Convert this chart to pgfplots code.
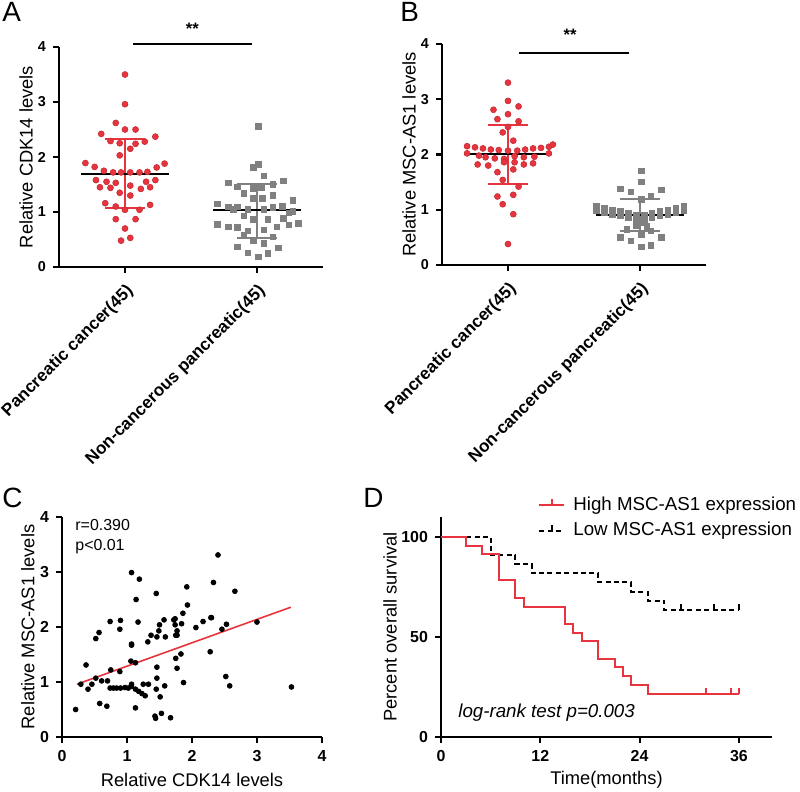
\documentclass[border=0pt]{standalone}
\usepackage{pgfplots}
\pgfplotsset{compat=1.18}
\usepackage{fontspec}
\setmainfont{Liberation Sans}
\definecolor{myred}{RGB}{232,52,62}
\definecolor{mygray}{RGB}{128,128,128}
\pgfdeclareplotmark{cens}{\pgfpathmoveto{\pgfpoint{0pt}{0pt}}\pgfpathlineto{\pgfpoint{0pt}{3bp}}\pgfusepathqstroke}

\pgfplotstableread{
x y
0 3.50
0 2.96
-0.07 2.62
0 2.50
0.08 2.50
-0.18 2.42
0.23 2.37
-0.11 2.29
-0.04 2.25
0.15 2.28
0.08 2.24
0.04 2.15
-0.04 2.03
-0.30 1.89
0.30 1.88
-0.23 1.82
0.24 1.81
-0.16 1.75
-0.09 1.72
-0.03 1.72
0.04 1.72
0.11 1.72
0.17 1.73
-0.22 1.58
-0.14 1.55
-0.07 1.53
0.16 1.55
0.23 1.58
-0.19 1.45
-0.11 1.44
0.04 1.48
0.12 1.42
0.19 1.45
-0.04 1.35
0.04 1.30
-0.15 1.16
-0.07 1.10
0.19 1.13
0 1.04
0.11 1.04
-0.07 0.87
0.08 0.87
0 0.70
-0.03 0.48
0.04 0.53
}\Ared

\pgfplotstableread{
x y
1.01 2.56
0.97 1.82
1.01 1.87
1.05 1.66
0.78 1.53
1.20 1.57
1.12 1.51
0.85 1.46
0.97 1.43
1.03 1.44
0.90 1.34
1.12 1.31
0.97 1.25
1.04 1.25
1.27 1.22
0.70 1.15
0.78 1.10
0.85 1.10
1.19 1.11
0.82 1.05
0.93 1.05
1.12 1.09
1.05 1.05
1.27 1.01
1.24 0.99
0.90 0.93
0.97 0.87
1.08 0.87
1.20 0.89
0.70 0.78
0.78 0.73
1.31 0.80
1.24 0.77
0.85 0.72
0.93 0.66
1.05 0.68
1.15 0.73
0.90 0.58
1.12 0.55
0.97 0.49
0.85 0.37
1.05 0.43
1.16 0.35
0.93 0.26
1.08 0.25
1.01 0.19
}\Agray

\pgfplotstableread{
x y
0 3.30
0 2.97
0.08 2.87
-0.11 2.81
0 2.73
-0.08 2.64
0.08 2.60
0 2.50
-0.04 2.40
0.04 2.25
-0.31 2.15
-0.25 2.13
-0.19 2.11
-0.13 2.09
-0.07 2.08
0 2.07
0.07 2.07
0.13 2.09
0.19 2.11
0.25 2.12
0.31 2.14
0.34 2.18
-0.31 2.02
0.31 2.02
-0.22 1.98
-0.17 1.95
-0.10 1.93
-0.03 1.92
0.05 1.97
0.12 1.95
0.20 1.96
-0.23 1.82
-0.15 1.80
-0.03 1.86
0.05 1.86
0.12 1.82
0.19 1.84
0.04 1.73
-0.08 1.68
-0.04 1.54
0.08 1.42
0.04 1.27
-0.08 1.24
-0.04 1.10
0.04 0.92
0 0.38
}\Bred

\pgfplotstableread{
x y
1.01 1.71
1.01 1.51
0.85 1.38
0.93 1.33
1.16 1.36
1.01 1.19
1.08 1.24
0.67 1.06
0.67 0.98
1.33 1.06
1.33 0.98
0.73 1.03
0.73 0.95
1.27 1.03
1.27 0.95
0.79 1.00
0.79 0.92
1.21 1.00
1.21 0.92
0.85 0.97
0.85 0.89
1.15 0.97
1.15 0.89
0.91 0.94
0.91 0.86
1.09 0.94
1.09 0.86
0.97 0.91
0.97 0.83
1.03 0.91
1.03 0.83
1.00 0.78
0.97 0.72
1.05 0.70
0.90 0.65
1.08 0.62
0.85 0.50
0.93 0.44
1.16 0.50
1.01 0.55
1.01 0.33
1.08 0.36
}\Bgray

\pgfplotstableread{
x y
0.21 0.50
0.29 0.96
0.37 1.31
0.40 0.87
0.46 0.96
0.52 1.07
0.52 1.79
0.57 1.90
0.58 0.61
0.61 1.02
0.69 0.56
0.70 1.02
0.74 2.10
0.75 1.22
0.74 0.89
0.79 0.89
0.84 0.89
0.90 0.89
0.97 0.90
0.89 1.96
0.90 2.12
0.89 1.19
1.02 0.89
1.07 0.92
1.07 2.99
1.19 2.87
1.14 2.50
1.17 2.09
1.07 1.69
1.07 1.67
1.06 1.38
1.13 1.35
1.07 0.96
1.13 0.87
1.18 0.83
1.23 0.79
1.28 0.75
1.13 0.53
1.25 0.96
1.33 0.96
1.32 1.73
1.37 1.85
1.43 0.38
1.44 0.34
1.45 2.61
1.46 1.82
1.46 1.27
1.46 1.07
1.45 0.87
1.49 1.93
1.50 2.04
1.57 2.13
1.59 1.82
1.51 0.73
1.53 0.43
1.58 0.93
1.67 0.35
1.72 2.13
1.74 2.15
1.74 2.04
1.75 1.85
1.77 1.85
1.75 1.43
1.77 1.93
1.84 2.06
1.92 2.73
1.93 2.40
1.83 1.51
1.77 1.25
1.87 0.99
2.40 3.31
2.33 2.81
2.66 2.65
1.86 2.25
2.06 1.99
2.17 2.10
2.29 2.17
2.30 2.17
2.46 1.96
2.53 2.05
3.00 2.09
2.28 1.55
2.52 1.10
2.58 0.93
3.53 0.91
}\Cdata

\pgfplotsset{
  gp/.style={
    scale only axis,
    axis lines=left,
    axis line style={-, line width=1.2bp},
    tick align=outside,
    tick pos=left,
    major tick length=3bp,
    tick style={line width=1.1bp, black},
    /pgf/number format/assume math mode=true,
    clip=false,
    anchor=south west,
  },
  abtick/.style={
    xtick={0,1},
    xticklabels={Pancreatic cancer(45),Non-cancerous pancreatic(45)},
    ytick={0,1,2,3,4},
    xmin=-0.5, xmax=1.5, ymin=0, ymax=4,
    xticklabel style={rotate=45, anchor=north east, font=\bfseries\fontsize{8.6}{10}\selectfont},
    yticklabel style={font=\bfseries\fontsize{7.2}{8}\selectfont},
    ylabel style={anchor=center, font=\fontsize{9.2}{11}\selectfont},
  },
  redpt/.style={only marks, mark=*, mark size=1.5bp, mark options={fill=myred, draw=myred!85!black, line width=0.3bp}},
  graypt/.style={only marks, mark=square*, mark size=1.4bp, mark options={fill=mygray, draw=mygray, line width=0.2bp}},
}

\begin{document}
\begin{tikzpicture}
\useasboundingbox (0,0) rectangle (400bp,-396bp);

% Panel A
\begin{axis}[gp, abtick, at={(29.5bp,-133.5bp)}, width=132bp, height=110bp,
  ylabel={Relative CDK14 levels},
  ylabel style={at={(axis description cs:-0.125,0.5)}}]
\addplot[redpt] table[x=x,y=y] {\Ared};
\addplot[graypt] table[x=x,y=y] {\Agray};
\addplot[myred, line width=1bp] coordinates {(0,1.07) (0,2.33)};
\addplot[myred, line width=1bp] coordinates {(-0.15,2.33) (0.15,2.33)};
\addplot[myred, line width=1bp] coordinates {(-0.15,1.07) (0.15,1.07)};
\addplot[black, line width=1bp] coordinates {(-0.33,1.70) (0.33,1.70)};
\addplot[mygray, line width=1bp] coordinates {(1,0.52) (1,1.51)};
\addplot[mygray, line width=1bp] coordinates {(0.85,1.51) (1.15,1.51)};
\addplot[mygray, line width=1bp] coordinates {(0.85,0.52) (1.15,0.52)};
\addplot[black, line width=1bp] coordinates {(0.67,1.03) (1.33,1.03)};
\addplot[black, line width=1bp] coordinates {(0.06,4.05) (0.96,4.05)};
\node[font=\bfseries\fontsize{8.3}{10}\selectfont] at (axis cs:0.51,4.33) {**};
\end{axis}

% Panel B
\begin{axis}[gp, abtick, at={(221bp,-132.5bp)}, width=132bp, height=110.5bp,
  ylabel={Relative MSC-AS1 levels},
  ylabel style={at={(axis description cs:-0.125,0.5)}}]
\addplot[redpt] table[x=x,y=y] {\Bred};
\addplot[graypt] table[x=x,y=y] {\Bgray};
\addplot[myred, line width=1bp] coordinates {(0,1.47) (0,2.54)};
\addplot[myred, line width=1bp] coordinates {(-0.15,2.54) (0.15,2.54)};
\addplot[myred, line width=1bp] coordinates {(-0.15,1.47) (0.15,1.47)};
\addplot[black, line width=1bp] coordinates {(-0.33,2.01) (0.33,2.01)};
\addplot[mygray, line width=1bp] coordinates {(1,0.62) (1,1.19)};
\addplot[mygray, line width=1bp] coordinates {(0.85,1.19) (1.15,1.19)};
\addplot[mygray, line width=1bp] coordinates {(0.85,0.62) (1.15,0.62)};
\addplot[black, line width=1bp] coordinates {(0.67,0.90) (1.33,0.90)};
\addplot[black, line width=1bp] coordinates {(0.08,3.84) (0.92,3.84)};
\node[font=\bfseries\fontsize{8.3}{10}\selectfont] at (axis cs:0.47,4.17) {**};
\end{axis}

% Panel C
\begin{axis}[gp, at={(31bp,-368.5bp)}, width=130bp, height=110bp,
  xmin=0, xmax=4, ymin=0, ymax=4, xtick={0,1,2,3,4}, ytick={0,1,2,3,4},
  ticklabel style={font=\bfseries\fontsize{8}{9}\selectfont},
  xlabel={Relative CDK14 levels}, ylabel={Relative MSC-AS1 levels},
  xlabel style={at={(axis description cs:0.5,-0.195)}, anchor=center, font=\fontsize{9.2}{11}\selectfont},
  ylabel style={at={(axis description cs:-0.131,0.5)}, anchor=center, font=\fontsize{9.2}{11}\selectfont}]
\addplot[only marks, mark=*, mark size=1.2bp, mark options={fill=black, draw=black}] table[x=x,y=y] {\Cdata};
\addplot[myred, line width=0.8bp] coordinates {(0.23,0.96) (3.52,2.36)};
\node[anchor=west, font=\fontsize{8}{9}\selectfont, inner sep=0] at (axis cs:0.2,3.85) {r=0.390};
\node[anchor=west, font=\fontsize{8}{9}\selectfont, inner sep=0] at (axis cs:0.2,3.47) {p<0.01};
\end{axis}

% Panel D
\begin{axis}[gp, at={(220.5bp,-368.5bp)}, width=165.5bp, height=110bp,
  xmin=0, xmax=40, ymin=0, ymax=110, xtick={0,12,24,36}, ytick={0,50,100},
  ticklabel style={font=\bfseries\fontsize{8}{9}\selectfont},
  xlabel={Time(months)}, ylabel={Percent overall survival},
  xlabel style={at={(axis description cs:0.5,-0.195)}, anchor=center, font=\fontsize{9.2}{11}\selectfont},
  ylabel style={at={(axis description cs:-0.154,0.5)}, anchor=center, font=\fontsize{9.2}{11}\selectfont},
  legend image code/.code={\draw[#1] (0bp,0bp) -- (12.5bp,0bp); \draw[#1,solid] (6.25bp,0bp) -- (6.25bp,3bp);},
  legend style={draw=none, fill=none, inner sep=0pt, at={(rel axis cs:0.293,1.11)}, anchor=north west,
    font=\fontsize{9.4}{11}\selectfont, row sep=0.3bp, column sep=2bp, cells={anchor=west}}]
\addlegendimage{myred, line width=1bp}
\addlegendentry{High MSC-AS1 expression}
\addlegendimage{black, line width=1bp, dash pattern=on 2.5bp off 1.7bp}
\addlegendentry{Low MSC-AS1 expression}
\addplot[const plot, black, line width=1bp, dash pattern=on 2.5bp off 1.7bp, forget plot] coordinates {
(0,100) (6,90.91) (9,86.36) (11,81.82) (19,77.27) (23,72.73) (25,68.18) (27,63.64) (36,63.64)};
\addplot[only marks, mark=cens, black, line width=1bp, forget plot] coordinates {(29,63.64) (33,63.64) (36,63.64)};
\addplot[const plot, myred, line width=1bp, forget plot] coordinates {
(0,100) (3,95.65) (5,91.3) (7,78.26) (9,69.57) (10,65.22) (15,56.52) (16,52.17) (17,47.83) (19,39.13) (21,34.78) (22,30.43) (23,26.09) (25,21.74) (36,21.74)};
\addplot[only marks, mark=cens, myred, line width=1bp, forget plot] coordinates {(32,21.74) (35,21.74) (36,21.74)};
\node[anchor=west, font=\itshape\fontsize{9.4}{11}\selectfont, inner sep=0] at (axis cs:2.05,12) {log-rank test p=0.003};
\end{axis}

\node[anchor=north west, inner sep=0, font=\fontsize{14}{16}\selectfont] at (1bp,-1bp) {A};
\node[anchor=north west, inner sep=0, font=\fontsize{14}{16}\selectfont] at (200bp,-1bp) {B};
\node[anchor=north west, inner sep=0, font=\fontsize{14}{16}\selectfont] at (1bp,-244bp) {C};
\node[anchor=north west, inner sep=0, font=\fontsize{14}{16}\selectfont] at (181.5bp,-244bp) {D};
\end{tikzpicture}
\end{document}
